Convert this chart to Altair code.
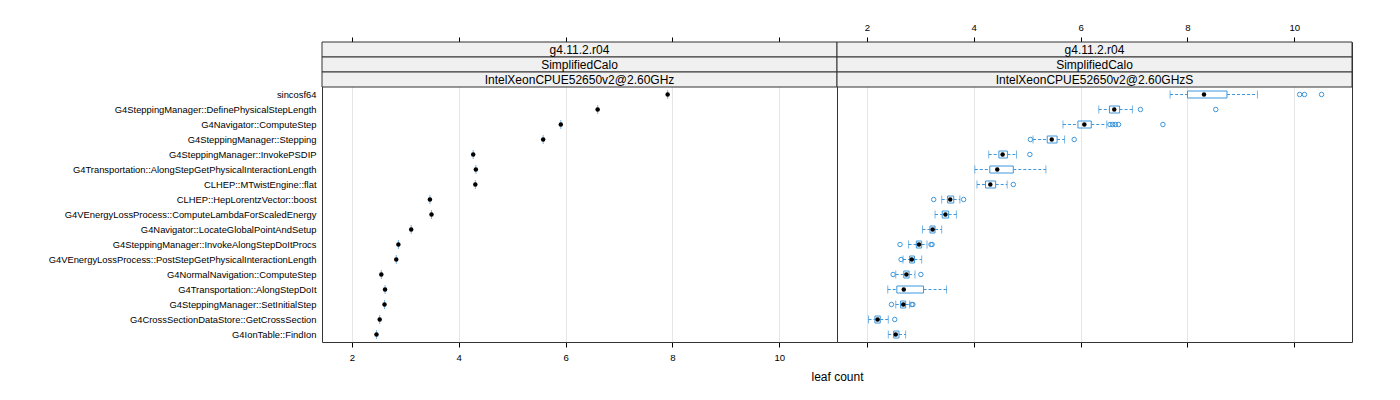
import altair as alt
import pandas as pd

# ---------------- data ----------------
NAMES = [
    "sincosf64",
    "G4SteppingManager::DefinePhysicalStepLength",
    "G4Navigator::ComputeStep",
    "G4SteppingManager::Stepping",
    "G4SteppingManager::InvokePSDIP",
    "G4Transportation::AlongStepGetPhysicalInteractionLength",
    "CLHEP::MTwistEngine::flat",
    "CLHEP::HepLorentzVector::boost",
    "G4VEnergyLossProcess::ComputeLambdaForScaledEnergy",
    "G4Navigator::LocateGlobalPointAndSetup",
    "G4SteppingManager::InvokeAlongStepDoItProcs",
    "G4VEnergyLossProcess::PostStepGetPhysicalInteractionLength",
    "G4NormalNavigation::ComputeStep",
    "G4Transportation::AlongStepDoIt",
    "G4SteppingManager::SetInitialStep",
    "G4CrossSectionDataStore::GetCrossSection",
    "G4IonTable::FindIon",
]

LEFT_VALUES = [7.91, 6.60, 5.91, 5.58, 4.27, 4.32, 4.31, 3.46, 3.49,
               3.11, 2.87, 2.83, 2.55, 2.62, 2.61, 2.52, 2.46]

R_WLO = [7.675, 6.34, 5.67, 5.11, 4.28, 4.02, 4.06, 3.40, 3.275,
         3.04, 2.78, 2.675, 2.54, 2.39, 2.54, 2.03, 2.40]
R_Q1 = [8.00, 6.54, 5.95, 5.375, 4.47, 4.30, 4.22, 3.51, 3.41,
        3.18, 2.925, 2.80, 2.69, 2.56, 2.63, 2.15, 2.50]
R_MED = [8.31, 6.63, 6.07, 5.46, 4.54, 4.44, 4.31, 3.56, 3.47,
         3.23, 2.975, 2.84, 2.74, 2.69, 2.68, 2.20, 2.54]
R_Q3 = [8.74, 6.73, 6.20, 5.56, 4.63, 4.74, 4.41, 3.625, 3.53,
        3.275, 3.025, 2.89, 2.79, 3.06, 2.725, 2.25, 2.60]
R_WHI = [9.31, 6.97, 6.49, 5.70, 4.80, 5.35, 4.625, 3.74, 3.675,
         3.40, 3.125, 3.025, 2.90, 3.49, 2.80, 2.40, 2.725]
R_OUTLIERS = [
    [10.10, 10.19, 10.51],
    [7.12, 8.53],
    [6.55, 6.60, 6.65, 6.71, 7.54],
    [5.06, 5.88],
    [5.05],
    [],
    [4.74],
    [3.25, 3.81],
    [],
    [],
    [2.62, 3.20, 3.22],
    [2.64],
    [2.49, 3.01],
    [],
    [2.46, 2.84, 2.86],
    [2.52],
    [],
]

TICKS = [2, 4, 6, 8, 10]
X_DOMAIN = [1.44, 11.08]
STRIP_KEYS = ["strip_version", "strip_benchmark", "strip_cpu"]
LEFT_STRIPS = ["g4.11.2.r04", "SimplifiedCalo", "IntelXeonCPUE52650v2@2.60GHz"]
RIGHT_STRIPS = ["g4.11.2.r04", "SimplifiedCalo", "IntelXeonCPUE52650v2@2.60GHzS"]
X_TITLE = "leaf count"

# ---------------- style ----------------
W = 515
ROW = 15
H = ROW * (len(NAMES) + len(STRIP_KEYS))
BLUE = "#3d97dc"
FONT = "Liberation Sans"
GRID = "#e6e6e6"
STRIP_FILL = "#f0f0f0"
BORDER = "#333333"

xs = alt.Scale(domain=X_DOMAIN, nice=False, zero=False)
ys = alt.Scale(type="band", domain=STRIP_KEYS + NAMES, paddingInner=0, paddingOuter=0)


def y_enc(axis):
    return alt.Y("row:N", scale=ys, axis=axis, title=None)


def x_axis(orient, show_labels, grid, title=None):
    kw = dict(
        orient=orient, values=TICKS, format="d", tickSize=5, tickColor="black",
        tickWidth=1, domain=False, grid=grid, gridColor=GRID, gridWidth=1,
        labelFontSize=9.6, labelFont=FONT, labelColor="black", labelPadding=5,
        labelOpacity=1 if show_labels else 0, labelFlush=False,
    )
    if title:
        kw.update(title=title, titleX=W, titleAlign="center", titleFontSize=12,
                  titleFont=FONT, titleFontWeight="normal", titleColor="black",
                  titlePadding=10)
    else:
        kw.update(title=None)
    return alt.Axis(**kw)


def panel(kind, strips, show_y, top_labels, bottom_labels, title):
    yaxis = None
    if show_y:
        yaxis = alt.Axis(values=NAMES, ticks=False, domain=False, labelFontSize=9.4,
                         labelFont=FONT, labelColor="black", labelPadding=6,
                         labelLimit=600, minExtent=313, maxExtent=313)

    strip_df = pd.DataFrame({"row": STRIP_KEYS, "label": strips})
    strip_rect = alt.Chart(strip_df).mark_rect(
        fill=STRIP_FILL, stroke=BORDER, strokeWidth=1
    ).encode(x=alt.value(0), x2=alt.value(W), y=y_enc(yaxis))
    strip_text = alt.Chart(strip_df).mark_text(
        font=FONT, fontSize=12, color="black", baseline="middle", align="center"
    ).encode(x=alt.value(W / 2), y=y_enc(yaxis), text="label:N")

    if kind == "left":
        df = pd.DataFrame({"row": NAMES, "med": LEFT_VALUES})
        base = alt.Chart(df)
        glyph = base.mark_tick(color=BLUE, size=9, thickness=1, orient="vertical").encode(
            x=alt.X("med:Q", scale=xs, axis=x_axis("bottom", bottom_labels, True, title)),
            y=y_enc(yaxis))
        top = base.mark_point(opacity=0).encode(
            x=alt.X("med:Q", scale=xs, axis=x_axis("top", top_labels, False)),
            y=y_enc(yaxis))
        med = base.mark_point(filled=True, color="black", size=20, opacity=1).encode(
            x=alt.X("med:Q", scale=xs, axis=None), y=y_enc(yaxis))
        layers = [glyph, top, strip_rect, strip_text, med]
    else:
        df = pd.DataFrame({"row": NAMES, "lo": R_WLO, "q1": R_Q1, "med": R_MED,
                           "q3": R_Q3, "hi": R_WHI})
        out_rows = []
        for name, vals in zip(NAMES, R_OUTLIERS):
            for v in vals:
                out_rows.append({"row": name, "v": v})
        out_df = pd.DataFrame(out_rows)
        base = alt.Chart(df)
        box = base.mark_bar(size=7, fill="transparent", stroke=BLUE, strokeWidth=1).encode(
            x=alt.X("q1:Q", scale=xs, axis=x_axis("bottom", bottom_labels, True, title)),
            x2="q3:Q", y=y_enc(yaxis))
        top = base.mark_point(opacity=0).encode(
            x=alt.X("med:Q", scale=xs, axis=x_axis("top", top_labels, False)),
            y=y_enc(yaxis))
        wl = base.mark_rule(color=BLUE, strokeDash=[3, 2], strokeWidth=1).encode(
            x=alt.X("lo:Q", scale=xs, axis=None), x2="q1:Q", y=y_enc(yaxis))
        wh = base.mark_rule(color=BLUE, strokeDash=[3, 2], strokeWidth=1).encode(
            x=alt.X("q3:Q", scale=xs, axis=None), x2="hi:Q", y=y_enc(yaxis))
        cap_lo = base.mark_tick(color=BLUE, size=8, thickness=1, orient="vertical").encode(
            x=alt.X("lo:Q", scale=xs, axis=None), y=y_enc(yaxis))
        cap_hi = base.mark_tick(color=BLUE, size=8, thickness=1, orient="vertical").encode(
            x=alt.X("hi:Q", scale=xs, axis=None), y=y_enc(yaxis))
        outl = alt.Chart(out_df).mark_point(
            shape="circle", filled=False, color=BLUE, size=20, strokeWidth=1, opacity=1
        ).encode(x=alt.X("v:Q", scale=xs, axis=None), y=y_enc(yaxis))
        med = base.mark_point(filled=True, color="black", size=20, opacity=1).encode(
            x=alt.X("med:Q", scale=xs, axis=None), y=y_enc(yaxis))
        layers = [box, top, strip_rect, strip_text, wl, wh, cap_lo, cap_hi, outl, med]

    return alt.layer(*layers).resolve_axis(x="independent").properties(width=W, height=H)


left = panel("left", LEFT_STRIPS, True, False, True, X_TITLE)
right = panel("right", RIGHT_STRIPS, False, True, False, None)

chart = alt.hconcat(left, right, spacing=0, bounds="flush").properties(
    padding={"left": 0, "top": 13, "right": 5, "bottom": 5},
    background="white",
).configure_view(stroke=BORDER, strokeWidth=1).configure_axis(
    labelFont=FONT, titleFont=FONT
)

chart.save("out.html", embed_options={"renderer": "svg", "actions": False})
